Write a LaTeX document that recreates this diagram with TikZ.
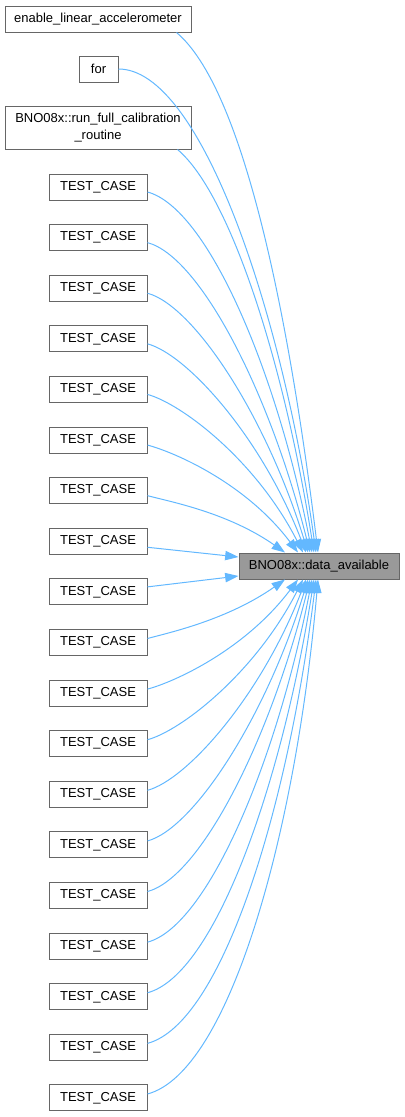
\documentclass[tikz,border=0pt]{standalone}
\usepackage{fontspec}
\setmainfont{Liberation Sans}
\usepackage{tikz}
\usetikzlibrary{arrows.meta, positioning, calc}
\definecolor{edgeblue}{HTML}{63B8FF}
\definecolor{boxgray}{HTML}{666666}
\definecolor{focusgray}{HTML}{999999}

\begin{document}
\begin{tikzpicture}[x=0.75pt, y=0.75pt, >={Triangle[length=10pt, width=7pt]},
  font=\fontsize{9.75}{12.75}\selectfont,
  caller/.style={draw=boxgray, line width=0.75pt, fill=white, minimum height=19.5pt, inner sep=2pt},
  callee/.style={caller, fill=focusgray, minimum width=120pt},
  call/.style={->, draw=edgeblue, line width=0.75pt}]
  \useasboundingbox (0,0) rectangle (404,-1117);

  % Aufgerufene Funktion
  \node[callee] (tgt) at (319,-566) {BNO08x::data\_available};

  % Aufrufer
  \node[caller, minimum width=139.5pt] (en) at (98,-19) {enable\_linear\_accelerometer};
  \node[caller, minimum width=29.25pt] (for) at (98.5,-69) {for};
  \node[caller, minimum width=139.5pt, minimum height=32.25pt, align=center] (bno) at (98,-127.5)
    {BNO08x::run\_full\_calibration\\\_routine};
  \foreach \i in {1,...,19}
    \node[caller, minimum width=73.5pt] (t\i) at (98,{-187-50.61*(\i-1)}) {TEST\_CASE};

  % Kanten von oben
  \draw[call] ($(en.south east)+(-15,0)$) to[out=-40, in=97, out looseness=0.4, in looseness=1.2] ($(tgt.north)+(-1,0)$);
  \draw[call] (for.east) to[out=0, in=98, out looseness=0.4, in looseness=1.2] ($(tgt.north)+(-3,0)$);
  \draw[call] ($(bno.south east)+(-14,0)$) to[out=-40, in=99, out looseness=0.4, in looseness=1.2] ($(tgt.north)+(-5,0)$);
  \foreach \i/\dx/\a in {1/-7/101, 2/-9/104, 3/-11/107, 4/-13/111, 5/-16/117, 6/-21/127, 7/-34/145}
    \draw[call] ($(t\i.east)+(0,-5)$) to[out=-15, in=\a, out looseness=0.4, in looseness=1.2] ($(tgt.north)+(\dx,0)$);

  % Kanten von links
  \draw[call] ($(t8.east)+(0,-6)$) -- ($(tgt.west)+(0,9)$);
  \draw[call] ($(t9.east)+(0,5)$) -- ($(tgt.west)+(0,-10)$);

  % Kanten von unten
  \foreach \i/\dx/\a in {10/-34/-145, 11/-21/-127, 12/-16/-117, 13/-13/-111, 14/-11/-107,
                         15/-9/-104, 16/-7/-101, 17/-5/-99, 18/-3/-97, 19/-1/-95}
    \draw[call] ($(t\i.east)+(0,4)$) to[out=15, in=\a, out looseness=0.4, in looseness=1.2] ($(tgt.south)+(\dx,0)$);
\end{tikzpicture}
\end{document}
